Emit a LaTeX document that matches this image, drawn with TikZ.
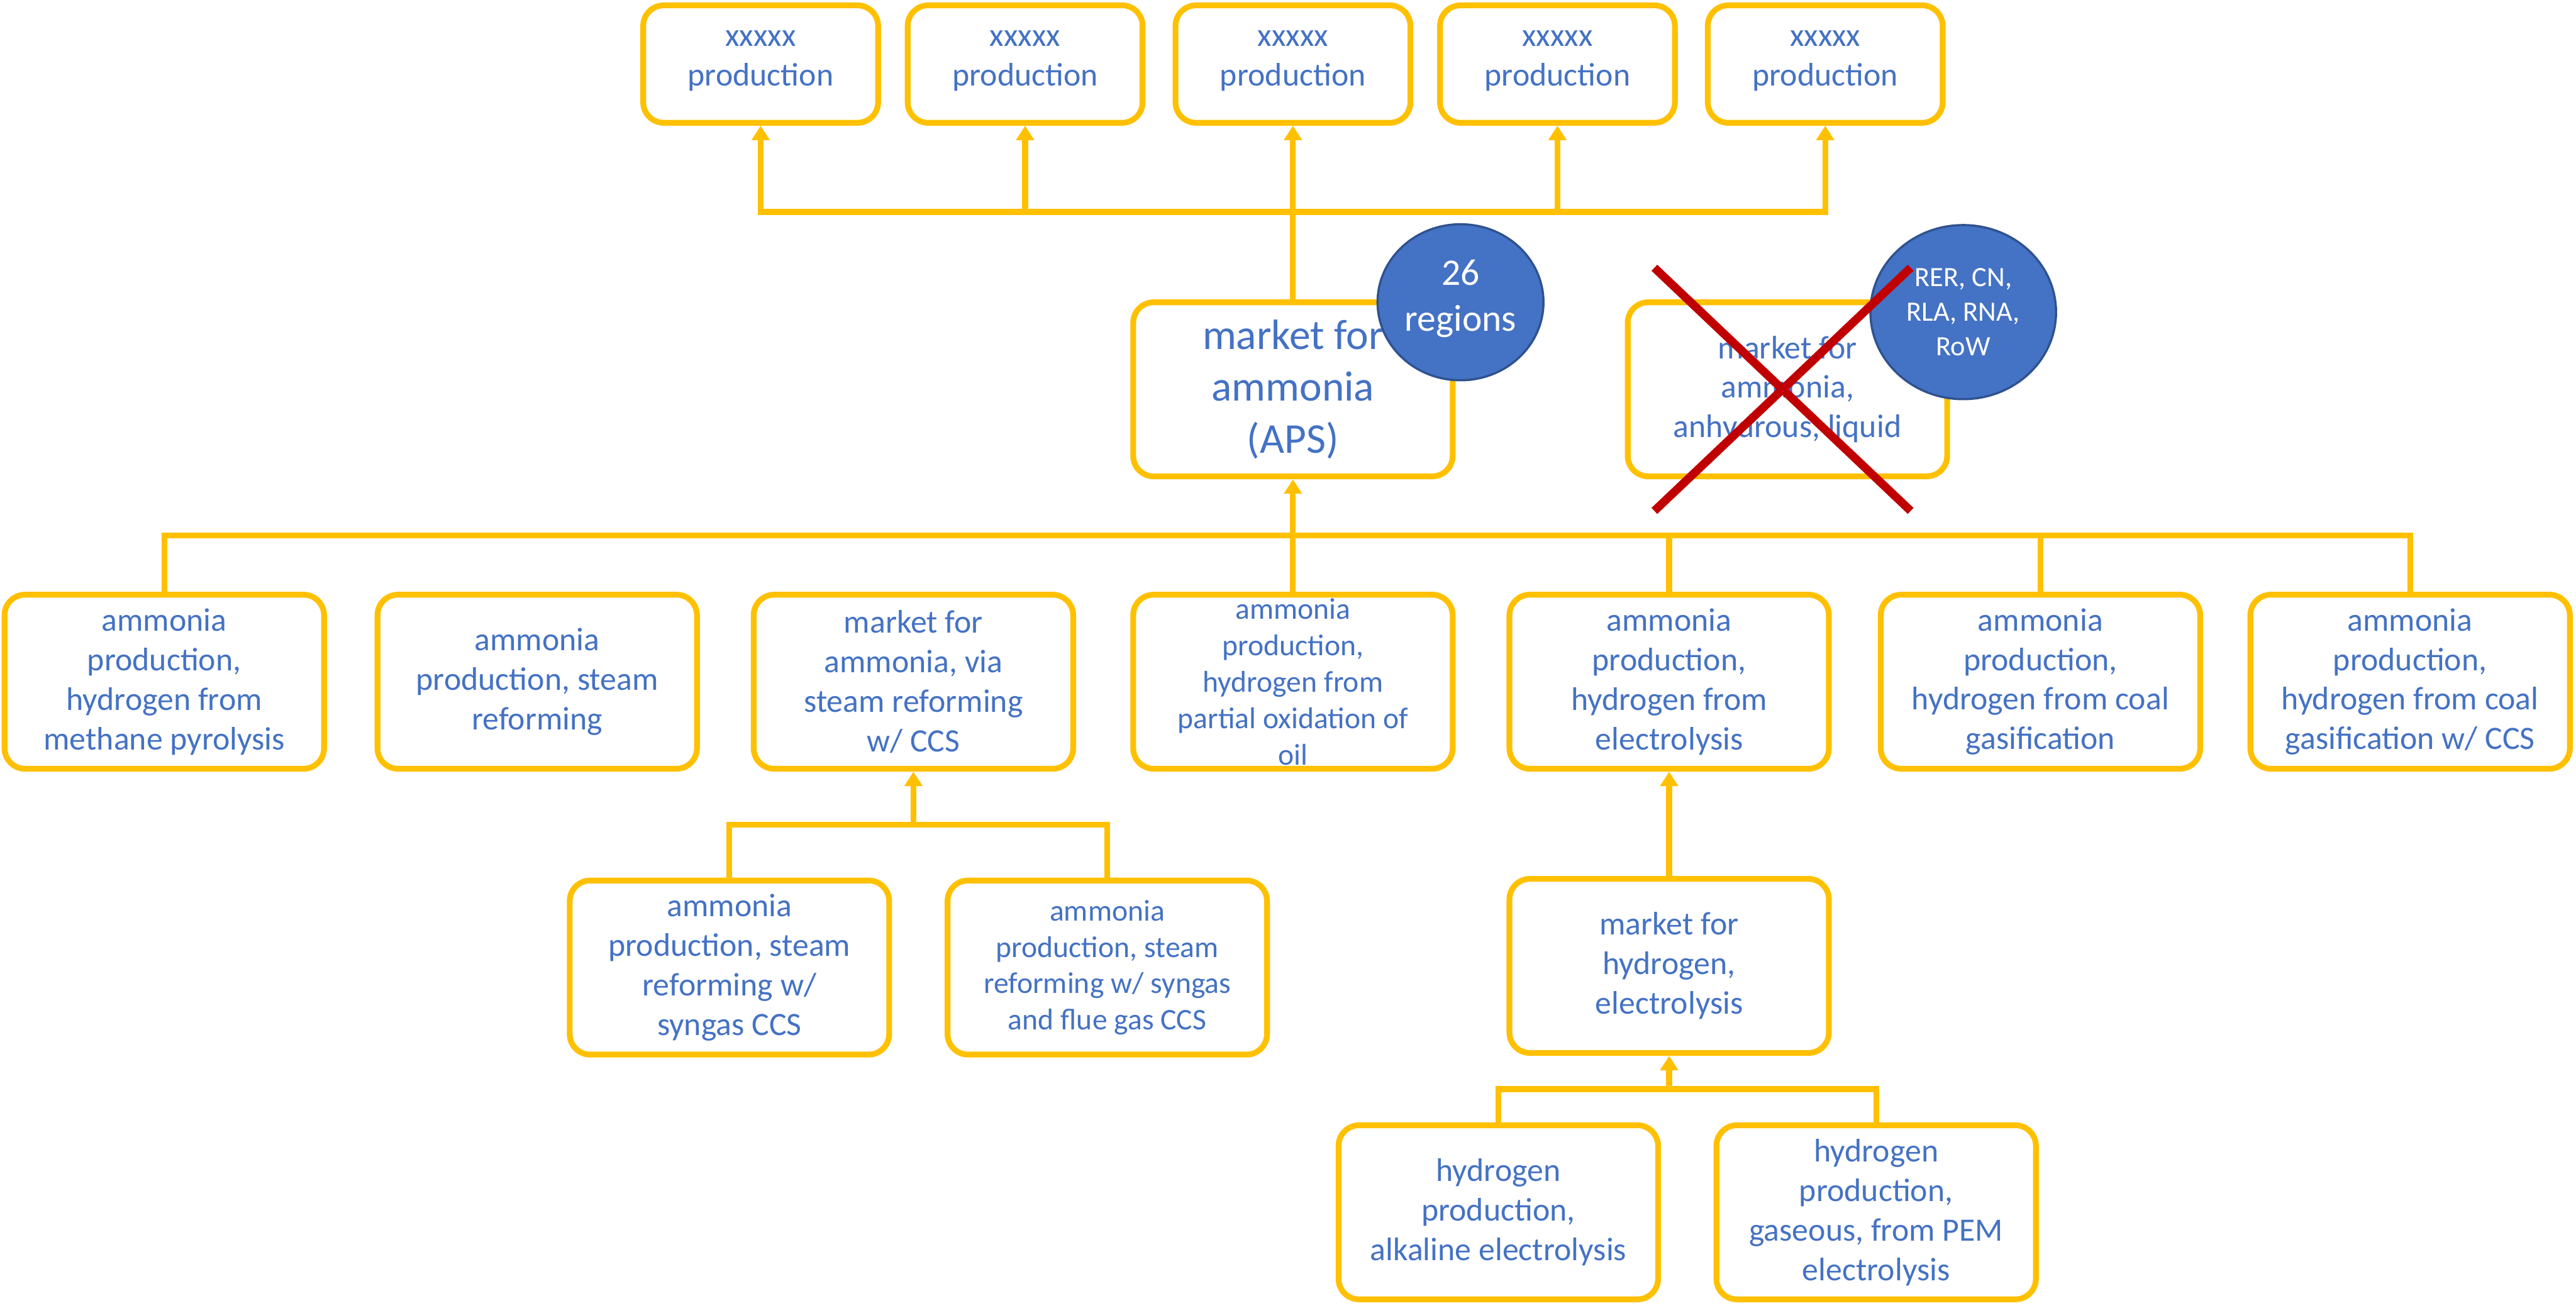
\documentclass[tikz,border=0pt]{standalone}
\usepackage{fontspec}
\setmainfont{Carlito}
\usepackage{tikz}
\usetikzlibrary{arrows.meta, shapes.geometric, calc}
\usepackage{xcolor}

\definecolor{gold}{HTML}{FFC000}
\definecolor{txtblue}{HTML}{4472C4}
\definecolor{rimblue}{HTML}{2F528F}
\definecolor{crossred}{HTML}{C00000}

\newcommand{\fsnorm}{\fontsize{11.3}{13.7}\selectfont}
\newcommand{\fssmall}{\fontsize{10.4}{12.6}\selectfont}
\newcommand{\fsbig}{\fontsize{14.7}{18}\selectfont}
\newcommand{\fscirc}{\fontsize{13}{16}\selectfont}
\newcommand{\fstiny}{\fontsize{9.7}{12}\selectfont}

\begin{document}
\begin{tikzpicture}[
    x=0.02cm, y=-0.02cm,
    box/.style={rectangle, rounded corners=0.25cm, draw=gold, line width=2pt, fill=white, minimum width=3.89cm, minimum height=2.12cm, inner sep=1pt, align=center, text=txtblue, font=\fsnorm},
    topbox/.style={box, minimum width=2.86cm, minimum height=1.43cm, execute at begin node=\strut},
    region/.style={ellipse, draw=rimblue, line width=0.75pt, fill=txtblue, text=white, align=center, inner sep=0pt},
    link/.style={draw=gold, line width=2pt},
    arrow/.style={link, -{Triangle[length=5pt, width=6pt]}},
    cross/.style={draw=crossred, line width=2.9pt}
]
\useasboundingbox (0,0) rectangle (1568,799);

% consumers
\node[topbox] (xa) at (463,39) {xxxxx\\production};
\node[topbox] (xb) at (624,39) {xxxxx\\production};
\node[topbox] (xc) at (787,39) {xxxxx\\production};
\node[topbox] (xd) at (948,39) {xxxxx\\production};
\node[topbox] (xe) at (1111,39) {xxxxx\\production};

% markets
\node[box, font=\fsbig] (mkt) at (787,237) {market for\\ammonia\\(APS)};
\node[box] (old) at (1088,237) {market for\\ammonia,\\anhydrous, liquid};

% ammonia routes
\node[box] (pyro) at (100,415) {ammonia\\production,\\hydrogen from\\methane pyrolysis};
\node[box] (smr) at (327,415) {ammonia\\production, steam\\reforming};
\node[box] (smrccs) at (556,415) {market for\\ammonia, via\\steam reforming\\w/ CCS};
\node[box, font=\fssmall] (pox) at (787,415) {ammonia\\production,\\hydrogen from\\partial oxidation of\\oil};
\node[box] (elec) at (1016,415) {ammonia\\production,\\hydrogen from\\electrolysis};
\node[box] (coal) at (1242,415) {ammonia\\production,\\hydrogen from coal\\gasification};
\node[box] (coalccs) at (1467,415) {ammonia\\production,\\hydrogen from coal\\gasification w/ CCS};

% sub-routes
\node[box] (syn) at (444,589) {ammonia\\production, steam\\reforming w/\\syngas CCS};
\node[box, font=\fssmall] (flue) at (674,589) {ammonia\\production, steam\\reforming w/ syngas\\and flue gas CCS};
\node[box] (hmkt) at (1016,588) {market for\\hydrogen,\\electrolysis};
\node[box] (alk) at (912,738) {hydrogen\\production,\\alkaline electrolysis};
\node[box] (pem) at (1142,738) {hydrogen\\production,\\gaseous, from PEM\\electrolysis};

% region badges
\node[region, minimum width=2.02cm, minimum height=1.9cm, font=\fscirc, execute at begin node=\strut] (n26) at (889,184) {26\\regions};
\node[region, minimum width=2.26cm, minimum height=2.12cm, font=\fstiny] (n5) at (1195,190) {RER, CN,\\RLA, RNA,\\RoW};

% removed market
\draw[cross] ($(old.center)+(-81,-74)$) -- ($(old.center)+(75,74)$);
\draw[cross] ($(old.center)+(75,-74)$) -- ($(old.center)+(-81,74)$);

% buses
\coordinate (bus1) at (787,129);
\coordinate (bus2) at (787,326);
\coordinate (bus3) at (556,502);
\coordinate (bus4) at (1016,663);

\draw[link, {Triangle[length=5pt, width=6pt]}-{Triangle[length=5pt, width=6pt]}] (xa.south) -- (xa.south |- bus1) -- (xe.south |- bus1) -- (xe.south);
\foreach \t in {xb,xd}
  \draw[arrow] (\t.south |- bus1) -- (\t.south);
\draw[arrow] (mkt.north) -- (xc.south);

\draw[link] (pyro.north) -- (pyro.north |- bus2) -- (coalccs.north |- bus2) -- (coalccs.north);
\foreach \t in {pox,elec,coal}
  \draw[link] (\t.north) -- (\t.north |- bus2);
\draw[arrow] (bus2) -- (mkt.south);

\draw[link] (syn.north) -- (syn.north |- bus3) -- (flue.north |- bus3) -- (flue.north);
\draw[arrow] (bus3) -- (smrccs.south);

\draw[link] (alk.north) -- (alk.north |- bus4) -- (pem.north |- bus4) -- (pem.north);
\draw[arrow] (bus4) -- (hmkt.south);
\draw[arrow] (hmkt.north) -- (elec.south);
\end{tikzpicture}
\end{document}
